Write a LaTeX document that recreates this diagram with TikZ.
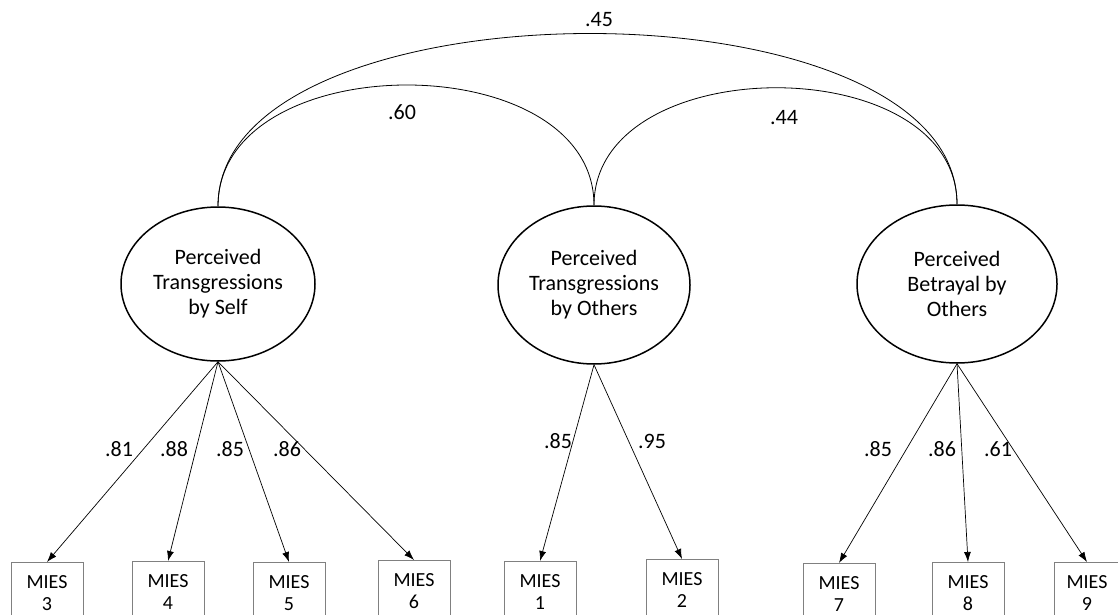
\documentclass[tikz,border=0pt]{standalone}
\usepackage{fontspec}
\setmainfont{Carlito}
\usetikzlibrary{shapes.geometric,arrows.meta}
\begin{document}
\begin{tikzpicture}[x=1pt,y=-1pt,
  latent/.style={draw,ellipse,line width=1.5pt,inner sep=0pt,align=center,
    font=\fontsize{22}{25}\selectfont},
  indicator/.style={draw=black!50,line width=1pt,anchor=north,minimum width=72pt,
    minimum height=62pt,inner sep=0pt,align=center,font=\fontsize{20}{22}\selectfont},
  load/.style={-{Latex[length=10pt,width=7pt]},line width=0.7pt},
  cov/.style={line width=0.8pt},
  coef/.style={font=\fontsize{22}{25}\selectfont,inner sep=0pt}]
\useasboundingbox (0,0) rectangle (1118,615);
% latent factors
\node[latent,minimum width=194pt,minimum height=154pt] (self) at (218,284) {Perceived\\Transgressions\\by Self};
\node[latent,minimum width=192pt,minimum height=158pt] (others) at (594,285) {Perceived\\Transgressions\\by Others};
\node[latent,minimum width=200pt,minimum height=158pt] (betray) at (957,284) {Perceived\\Betrayal by\\Others};
% indicators
\node[indicator] (m3) at (47,562) {MIES\\3};
\node[indicator] (m4) at (168,561) {MIES\\4};
\node[indicator] (m5) at (289,562) {MIES\\5};
\node[indicator] (m6) at (414,560) {MIES\\6};
\node[indicator] (m1) at (540,561) {MIES\\1};
\node[indicator] (m2) at (682,559) {MIES\\2};
\node[indicator] (m7) at (839,563) {MIES\\7};
\node[indicator] (m8) at (968,562) {MIES\\8};
\node[indicator,minimum width=66pt] (m9) at (1087,562) {MIES\\9};
% loadings
\draw[load] (self.south) -- (m3.north);
\draw[load] (self.south) -- (m4.north);
\draw[load] (self.south) -- (m5.north);
\draw[load] (self.south) -- (m6.north);
\draw[load] (others.south) -- (m1.north);
\draw[load] (others.south) -- (m2.north);
\draw[load] (betray.south) -- (m7.north);
\draw[load] (betray.south) -- (m8.north);
\draw[load] (betray.south) -- (m9.north);
% covariances
\draw[cov] (self.north) .. controls +(0,-229) and +(0,-229) .. (betray.north);
\draw[cov] (self.north) .. controls +(0,-161) and +(0,-161) .. (others.north);
\draw[cov] (others.north) .. controls +(0,-156) and +(0,-156) .. (betray.north);
% coefficients
\node[coef] (c45) at (599,20) {.45};
\node[coef] (c60) at (402,112) {.60};
\node[coef] (c44) at (784,118) {.44};
\node[coef] (l3) at (119,449) {.81};
\node[coef] (l4) at (174,449) {.88};
\node[coef] (l5) at (230,449) {.85};
\node[coef] (l6) at (287,449) {.86};
\node[coef] (l1) at (558,441) {.85};
\node[coef] (l2) at (652,441) {.95};
\node[coef] (l7) at (878,449) {.85};
\node[coef] (l8) at (942,449) {.86};
\node[coef] (l9) at (998,449) {.61};
\end{tikzpicture}
\end{document}
